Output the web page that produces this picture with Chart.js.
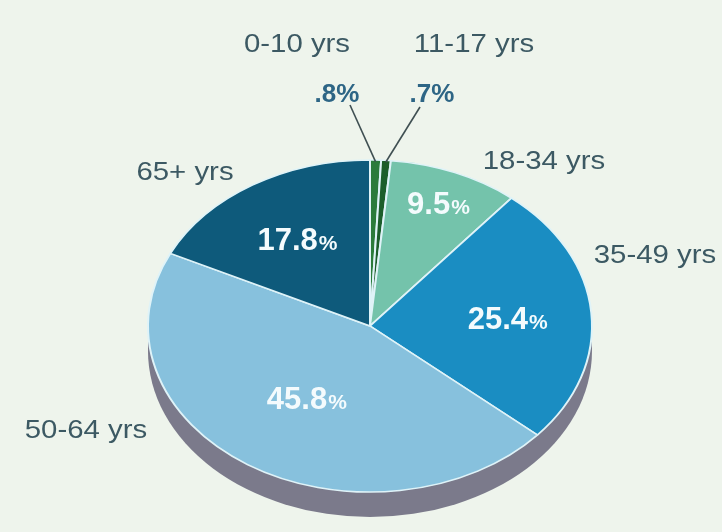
<!DOCTYPE html>
<html lang="en">
<head>
<meta charset="UTF-8">
<title>Age groups</title>
<script src="https://cdn.jsdelivr.net/npm/chart.js"></script>
<style>
  html, body { margin: 0; padding: 0; background: #eef4ec; }
  #wrap { width: 722px; height: 532px; }
</style>
</head>
<body>
<div id="wrap"><canvas id="pieChart" width="722" height="532"></canvas></div>
<script>
const ageGroups = ['0-10 yrs', '11-17 yrs', '18-34 yrs', '35-49 yrs', '50-64 yrs', '65+ yrs'];
const shares = [0.8, 0.7, 9.5, 25.4, 45.8, 17.8];
const sliceColors = ['#2b7b3b', '#1c5e2b', '#74c3ab', '#1a8dc2', '#87c1dd', '#0e5a7b'];

// label layout (px): name centre x + baseline, and for the thin slices the % line and leader start
const namePos = [[297, 52], [474, 52], [544, 169], [655, 263], [86, 438], [185, 180]];
const smallPctPos = { 0: [337, 102, 350, 105], 1: [432, 102, 420, 107] };

const tilt = 0.748;   // squash of the top face
const depth = 25;     // thickness of the side

function wideText(ctx, txt, x, y, sx) {
    ctx.save();
    ctx.translate(x, y);
    ctx.scale(sx, 1);
    ctx.textAlign = 'center';
    ctx.fillText(txt, 0, 0);
    ctx.restore();
}

const tiltPlugin = {
    id: 'tilt',
    beforeDatasetsDraw(chart) {
        const ctx = chart.ctx;
        const p = chart.getDatasetMeta(0).data[0].getProps(['x', 'y', 'outerRadius'], true);
        ctx.save();
        ctx.fillStyle = '#7b7a8b';
        ctx.beginPath();
        ctx.ellipse(p.x, p.y + depth, p.outerRadius, p.outerRadius * tilt, 0, 0, Math.PI * 2);
        ctx.fill();
        ctx.fillRect(p.x - p.outerRadius, p.y, p.outerRadius * 2, depth);
        ctx.restore();
        ctx.save();
        ctx.translate(p.x, p.y);
        ctx.scale(1, tilt);
        ctx.translate(-p.x, -p.y);
    },
    afterDatasetsDraw(chart) {
        const ctx = chart.ctx;
        ctx.restore();

        chart.getDatasetMeta(0).data.forEach((arc, i) => {
            const p = arc.getProps(['x', 'y', 'startAngle', 'endAngle', 'outerRadius'], true);
            const mid = (p.startAngle + p.endAngle) / 2;
            const v = shares[i];
            const pct = String(v).replace(/^0/, '');

            if (v >= 5) {
                const k = v < 12 ? 0.8 : (v > 40 ? 0.52 : 0.62);
                const lx = p.x + Math.cos(mid) * p.outerRadius * k;
                const ly = p.y + Math.sin(mid) * p.outerRadius * k * tilt;
                ctx.fillStyle = '#f4fbfd';
                ctx.textBaseline = 'alphabetic';
                ctx.font = 'bold 31px "Liberation Sans", Arial, sans-serif';
                const w1 = ctx.measureText(pct).width;
                ctx.font = 'bold 21px "Liberation Sans", Arial, sans-serif';
                const w2 = ctx.measureText('%').width;
                const x0 = lx - (w1 + w2) / 2;
                ctx.textAlign = 'left';
                ctx.font = 'bold 31px "Liberation Sans", Arial, sans-serif';
                ctx.fillText(pct, x0, ly + 11);
                ctx.font = 'bold 21px "Liberation Sans", Arial, sans-serif';
                ctx.fillText('%', x0 + w1 + 1, ly + 11);
            } else {
                const sp = smallPctPos[i];
                ctx.fillStyle = '#2d6585';
                ctx.textAlign = 'center';
                ctx.textBaseline = 'alphabetic';
                ctx.font = 'bold 26px "Liberation Sans", Arial, sans-serif';
                ctx.fillText(pct + '%', sp[0], sp[1]);
                // leader to the slice edge
                const ex = p.x + Math.cos(mid) * p.outerRadius * 0.99;
                const ey = p.y + Math.sin(mid) * p.outerRadius * 0.99 * tilt;
                ctx.strokeStyle = '#3f4f52';
                ctx.lineWidth = 1.6;
                ctx.beginPath();
                ctx.moveTo(sp[2], sp[3]);
                ctx.lineTo(ex, ey);
                ctx.stroke();
            }

            ctx.fillStyle = '#3c5963';
            ctx.textBaseline = 'alphabetic';
            ctx.font = '26px "Liberation Sans", Arial, sans-serif';
            wideText(ctx, ageGroups[i], namePos[i][0], namePos[i][1], 1.13);
        });
    }
};

new Chart(document.getElementById('pieChart'), {
    type: 'pie',
    data: {
        labels: ageGroups,
        datasets: [{
            data: shares,
            backgroundColor: sliceColors,
            borderColor: '#dff3f8',
            borderWidth: 2,
            radius: 222
        }]
    },
    options: {
        responsive: false,
        animation: false,
        layout: { padding: { left: 18, right: 0, top: 120, bottom: 0 } },
        plugins: {
            legend: { display: false },
            tooltip: { enabled: false }
        }
    },
    plugins: [tiltPlugin]
});
</script>
</body>
</html>
